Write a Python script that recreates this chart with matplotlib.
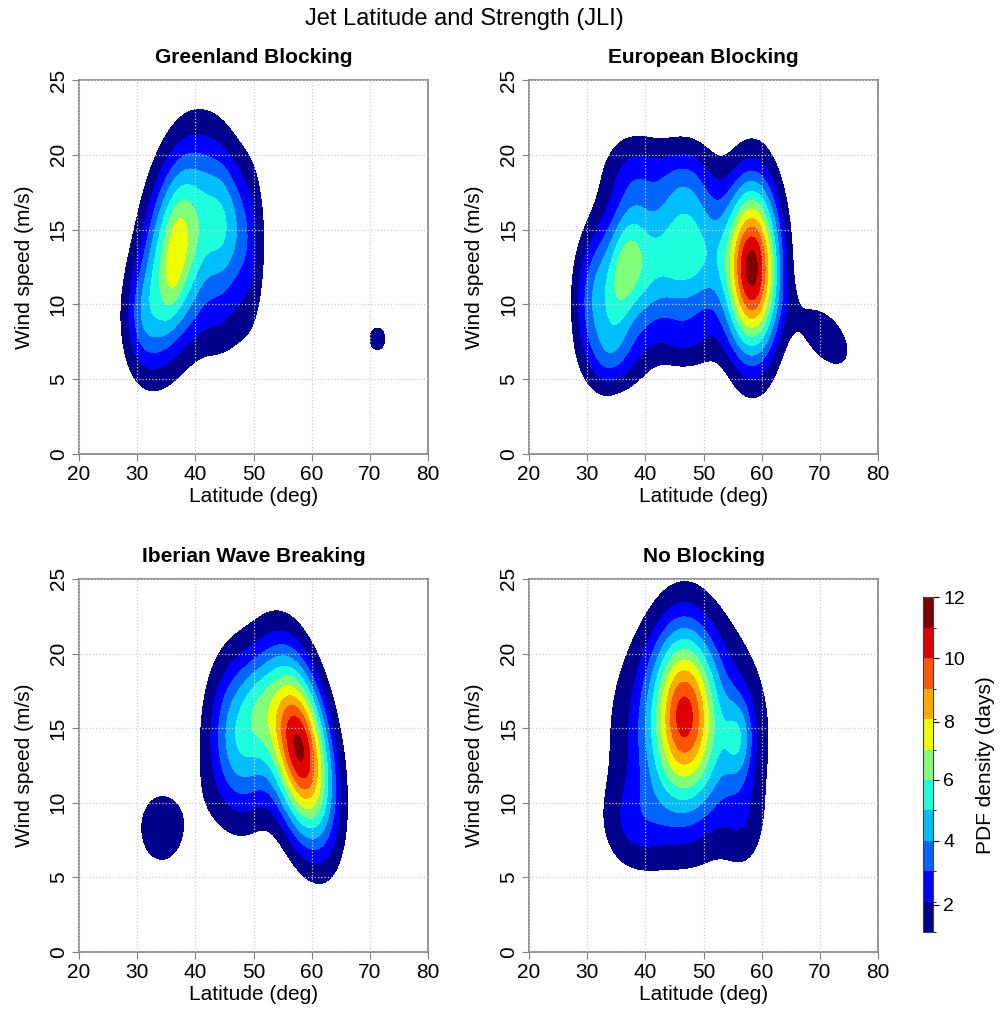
import numpy as np
import matplotlib
matplotlib.use("Agg")
import matplotlib.pyplot as plt
from matplotlib.colors import ListedColormap, BoundaryNorm

plt.rcParams['font.family'] = ['Liberation Sans', 'DejaVu Sans']

# panel titles
titles = ["Greenland Blocking", "European Blocking",
          "Iberian Wave Breaking", "No Blocking"]

# density bumps: (lat, speed, sd_lat, sd_speed, corr, height in days)
greenland = [(37.0, 13.8, 4.3, 4.7, 0.35, 7.2),
             (45.0, 15.0, 2.6, 3.5, 0.0, 3.8),
             (49.5, 14.0, 2.0, 4.0, 0.0, 1.8),
             (31.0, 9.0, 2.5, 2.5, 0.0, 1.8),
             (44.0, 8.5, 3.5, 2.2, 0.0, 1.0),
             (36.4, 12.6, 1.2, 2.4, 0.5, 0.9),
             (71.3, 7.7, 2.2, 1.25, 0.0, 1.3)]
european = [(58.4, 12.4, 3.2, 4.0, 0.0, 11.3),
            (35.8, 11.0, 2.2, 3.5, 0.6, 1.5),
            (37.5, 12.5, 4.0, 3.3, 0.0, 5.2),
            (47.0, 13.5, 4.2, 3.3, 0.0, 5.3),
            (52.0, 13.0, 2.5, 3.0, 0.0, 0.8),
            (31.0, 10.0, 2.5, 3.0, 0.0, 2.8),
            (38.0, 19.0, 4.0, 2.0, 0.0, 1.6),
            (47.0, 18.5, 3.5, 2.0, 0.0, 1.6),
            (35.0, 6.5, 3.5, 1.8, 0.0, 1.8),
            (47.0, 7.5, 4.0, 1.5, 0.0, 1.2),
            (71.0, 7.8, 4.2, 2.0, -0.5, 1.6)]
iberian = [(58.0, 13.6, 3.8, 4.2, -0.4, 11.0),
           (48.0, 14.5, 4.0, 3.8, 0.0, 5.0),
           (51.0, 16.5, 2.0, 2.0, 0.0, 1.0),
           (34.2, 8.3, 4.9, 3.0, 0.0, 1.4)]
noblock = [(46.6, 16.3, 3.6, 3.9, 0.0, 6.3),
           (47.5, 14.5, 8.0, 5.0, 0.0, 4.4),
           (56.0, 14.3, 1.8, 2.0, 0.0, 2.5),
           (38.0, 8.5, 4.0, 2.2, 0.0, 1.5),
           (57.0, 8.5, 2.5, 2.2, 0.0, 1.0)]
panels = [greenland, european, iberian, noblock]

# filled contour levels and colours
levels = [1.1, 2.1, 3.05, 4.0, 5.0, 6.0, 7.05, 8.1, 9.05, 10.0, 11.0, 12.0]
colours = ["#00008c", "#0000ff", "#0064ff", "#00beff", "#1effdc",
           "#82ff78", "#ebff00", "#ffaa00", "#ff5500", "#e10000", "#800000"]

lat = np.linspace(20, 80, 601)
spd = np.linspace(0, 25, 501)
LAT, SPD = np.meshgrid(lat, spd)


def density(bumps):
    z = np.zeros_like(LAT)
    for x0, y0, sx, sy, r, a in bumps:
        dx = (LAT - x0) / sx
        dy = (SPD - y0) / sy
        q = (dx**2 - 2*r*dx*dy + dy**2) / (1 - r**2)
        z += a * np.exp(-0.5 * q)
    return z


cmap = ListedColormap(colours)
norm = BoundaryNorm(levels, cmap.N)

fig = plt.figure(figsize=(10.01, 10.11), dpi=100)
rects = [[0.0789, 0.5509, 0.3487, 0.370], [0.5285, 0.5509, 0.3487, 0.370],
         [0.0789, 0.0584, 0.3487, 0.369], [0.5285, 0.0584, 0.3487, 0.369]]

for rect, title, bumps in zip(rects, titles, panels):
    ax = fig.add_axes(rect)
    z = density(bumps)
    z = np.where(z > 12, 11.99, z)
    cs = ax.contourf(LAT, SPD, z, levels=levels, cmap=cmap, norm=norm)
    ax.set_xlim(20, 80)
    ax.set_ylim(0, 25)
    ax.set_xticks(range(20, 81, 10))
    ax.set_yticks(range(0, 26, 5))
    ax.set_yticklabels([str(v) for v in range(0, 26, 5)], rotation=90, va='center')
    ax.grid(True, color='#d0d0d0', linestyle=':', linewidth=0.9)
    ax.set_axisbelow(False)
    for s in ax.spines.values():
        s.set_color('#808080')
        s.set_linewidth(1.2)
    ax.tick_params(labelsize=15, color='#808080', length=5, pad=3)
    ax.set_xlabel("Latitude (deg)", fontsize=15, labelpad=2)
    ax.set_ylabel("Wind speed (m/s)", fontsize=15, labelpad=11)
    ax.set_title(title, fontsize=15, fontweight='bold', pad=12)

cax = fig.add_axes([0.922, 0.0781, 0.0100, 0.331])
cb = fig.colorbar(cs, cax=cax, ticks=[2, 4, 6, 8, 10, 12])
cb.outline.set_edgecolor('#404040')
cb.ax.tick_params(labelsize=14, length=4)
cb.set_label("PDF density (days)", fontsize=15, labelpad=8)

fig.suptitle("Jet Latitude and Strength (JLI)", fontsize=17, x=0.4635, y=0.992)

fig.savefig("out.png", dpi=100)
